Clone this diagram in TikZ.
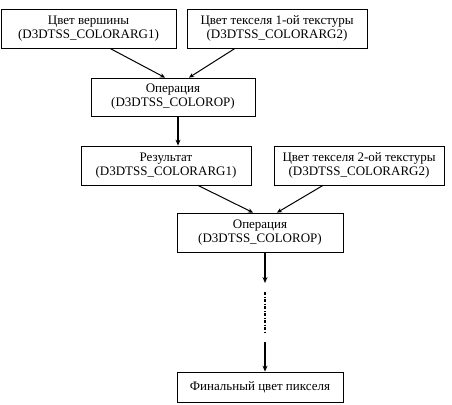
\documentclass[tikz,border=0pt]{standalone}
\usepackage{fontspec}
\setmainfont{Liberation Serif}
\usetikzlibrary{arrows.meta}
\tikzset{
  blk/.style={draw, line width=0.8pt, inner sep=0pt, align=center,
    font=\fontsize{13}{14}\selectfont},
  lnk/.style={line width=1pt, -{Stealth[length=5pt,width=4.5pt]}},
  vlnk/.style={line width=1.5pt, -{Stealth[length=6pt,width=5pt]}}
}
\begin{document}
\begin{tikzpicture}[x=1pt,y=-1pt]
  \useasboundingbox (0,0) rectangle (452,404);
  \node[blk, minimum width=175pt, minimum height=39pt] (vert) at (88.5,28.5) {Цвет вершины\\(D3DTSS\_COLORARG1)};
  \node[blk, minimum width=180pt, minimum height=39pt] (tex1) at (277,28.5) {Цвет текселя 1-ой текстуры\\(D3DTSS\_COLORARG2)};
  \node[blk, minimum width=164pt, minimum height=38pt] (op1) at (173,97) {Операция\\(D3DTSS\_COLOROP)};
  \node[blk, minimum width=170pt, minimum height=39pt] (res) at (166,165.5) {Результат\\(D3DTSS\_COLORARG1)};
  \node[blk, minimum width=170pt, minimum height=39pt] (tex2) at (359,165.5) {Цвет текселя 2-ой текстуры\\(D3DTSS\_COLORARG2)};
  \node[blk, minimum width=166pt, minimum height=39pt] (op2) at (260,232.5) {Операция\\(D3DTSS\_COLOROP)};
  \node[blk, minimum width=166pt, minimum height=30pt] (fin) at (260,387) {Финальный цвет пикселя};
  % gap in the chain
  \coordinate (gapa) at (265,283);
  \coordinate (gapb) at (265,292);
  \coordinate (gapc) at (265,332);
  \coordinate (gapd) at (265,342);
  \draw[lnk] ([xshift=21.5pt]vert.south) -- ([xshift=-8pt]op1.north);
  \draw[lnk] ([xshift=-42pt]tex1.south) -- ([xshift=16pt]op1.north);
  \draw[vlnk] ([xshift=5pt]op1.south) -- ([xshift=12pt]res.north);
  \draw[lnk] ([xshift=32pt]res.south) -- ([xshift=-7pt]op2.north);
  \draw[lnk] ([xshift=-36pt]tex2.south) -- ([xshift=17pt]op2.north);
  \draw[vlnk] ([xshift=5pt]op2.south) -- (gapa);
  \draw[line width=1.4pt, dash pattern=on 3pt off 1.5pt on 1pt off 1.5pt] (gapb) -- (gapc);
  \draw[vlnk] (gapd) -- ([xshift=5pt]fin.north);
\end{tikzpicture}
\end{document}
